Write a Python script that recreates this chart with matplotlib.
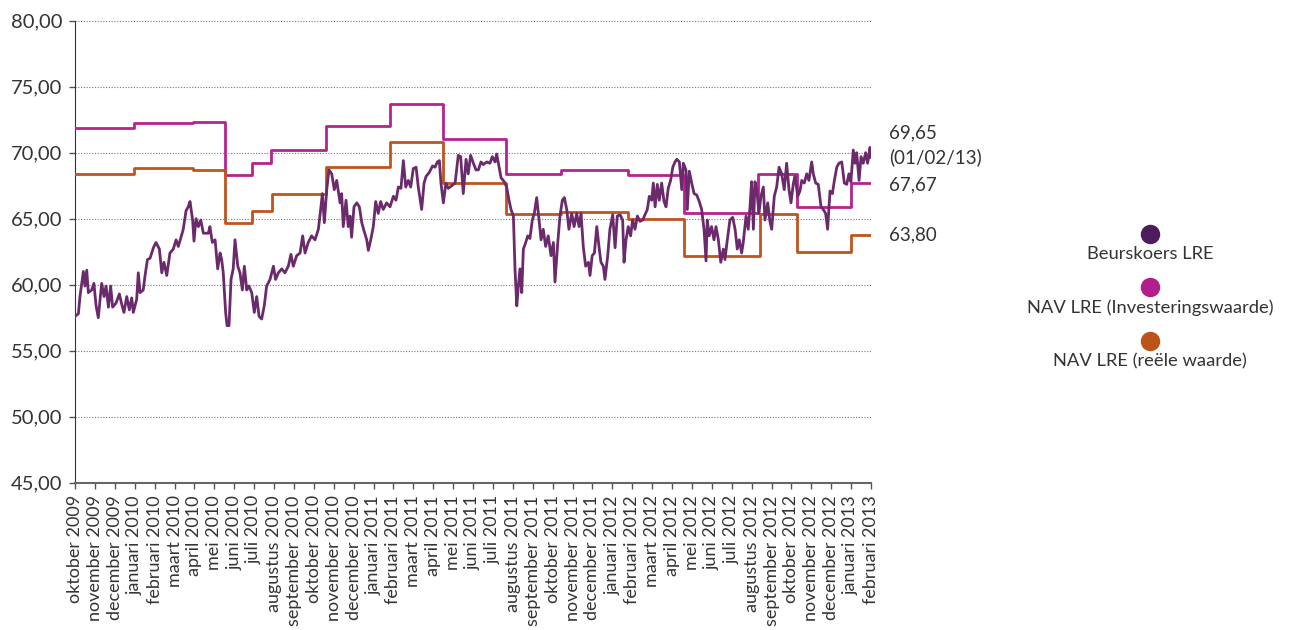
#! /usr/bin/env python3
# Koersevolutie LRE vs NAV, okt 2009 - feb 2013
import numpy as np
import matplotlib
matplotlib.use('Agg')
import matplotlib.pyplot as plt

plt.rcParams.update({
  'font.family':  ['Lato', 'DejaVu Sans'],
  'font.size':    13,
  'text.color':   '#333333',
  'xtick.color':  '#555555',
  'ytick.color':  '#555555',
  'xtick.labelcolor': '#333333',
  'ytick.labelcolor': '#333333',
})

# DATA (x = maanden sinds oktober 2009)
maanden = ['januari','februari','maart','april','mei','juni','juli',
           'augustus','september','oktober','november','december']
start_maand, start_jaar, n_maanden = 10, 2009, 41
xlabels = []
for i in range(n_maanden):
  mi = (start_maand-1+i) % 12
  jr = start_jaar + (start_maand-1+i)//12
  xlabels.append(f"{maanden[mi]} {jr}")

koers_x = [
  0.00,0.17,0.25,0.42,0.50,0.59,0.67,0.84,0.95,1.06,1.17,1.34,1.46,1.56,1.68,1.79,1.89,
  2.06,2.23,2.35,2.46,2.60,2.73,2.85,2.93,3.10,3.18,3.27,3.43,3.52,3.64,3.77,3.94,4.07,
  4.24,4.36,4.47,4.61,4.77,4.94,5.08,5.19,5.31,5.44,5.58,5.69,5.78,5.91,5.98,6.08,6.20,
  6.32,6.45,6.70,6.78,6.90,7.04,7.17,7.29,7.37,7.45,7.57,7.64,7.74,7.84,7.95,8.04,8.18,
  8.29,8.41,8.51,8.63,8.74,8.88,9.01,9.13,9.25,9.38,9.51,9.63,9.80,9.97,10.08,10.22,
  10.39,10.55,10.72,10.85,10.97,11.14,11.31,11.44,11.56,11.72,11.89,12.06,12.23,12.36,
  12.43,12.53,12.65,12.76,12.90,13.03,13.15,13.32,13.40,13.48,13.62,13.73,13.82,13.90,
  14.02,14.16,14.29,14.41,14.52,14.66,14.74,14.86,14.99,15.11,15.24,15.36,15.49,15.66,
  15.83,16.00,16.13,16.25,16.38,16.50,16.62,16.75,16.87,17.00,17.14,17.25,17.42,17.54,
  17.64,17.80,17.97,18.09,18.21,18.31,18.39,18.51,18.64,18.76,18.93,19.10,19.26,19.38,
  19.51,19.65,19.76,19.88,20.02,20.15,20.27,20.40,20.52,20.69,20.85,20.97,21.11,21.19,
  21.31,21.41,21.57,21.69,21.81,21.91,22.03,22.11,22.20,22.28,22.36,22.45,22.53,22.65,
  22.75,22.86,22.98,23.08,23.20,23.32,23.42,23.53,23.65,23.78,23.92,24.04,24.12,24.26,
  24.37,24.49,24.59,24.71,24.82,24.96,25.08,25.21,25.33,25.43,25.54,25.66,25.80,25.88,
  25.99,26.10,26.22,26.33,26.43,26.55,26.63,26.77,26.88,27.02,27.14,27.25,27.39,27.52,
  27.59,27.69,27.80,27.92,28.02,28.14,28.26,28.39,28.53,28.64,28.76,28.86,28.98,29.06,
  29.15,29.26,29.36,29.48,29.60,29.70,29.81,29.93,30.04,30.15,30.24,30.37,30.49,30.57,
  30.70,30.77,30.87,30.99,31.11,31.24,31.37,31.49,31.61,31.71,31.77,31.87,31.99,32.11,
  32.21,32.33,32.45,32.58,32.66,32.78,32.91,33.05,33.17,33.28,33.38,33.50,33.58,33.72,
  33.83,33.92,34.00,34.09,34.17,34.26,34.37,34.47,34.59,34.67,34.81,34.92,35.01,35.14,
  35.26,35.38,35.51,35.64,35.76,35.88,35.98,36.10,36.18,36.32,36.43,36.52,36.65,36.77,
  36.88,37.02,37.10,37.22,37.35,37.49,37.60,37.72,37.82,37.94,38.06,38.16,38.28,38.39,
  38.53,38.66,38.78,38.89,38.99,39.11,39.20,39.28,39.40,39.50,39.61,39.73,39.83,39.95,
  40.00]
koers_y = [
  57.6,57.8,59.1,61.0,59.9,61.1,59.4,59.6,60.1,58.4,57.5,60.1,59.1,59.9,58.3,59.9,58.3,
  58.6,59.3,58.5,57.9,59.1,58.1,59.0,57.9,58.9,60.9,59.4,59.6,60.7,61.9,62.0,62.8,63.2,
  62.7,60.9,61.7,60.7,62.4,62.7,63.4,62.9,63.5,64.2,65.6,65.9,66.3,64.9,63.3,65.0,64.4,
  64.9,63.9,63.9,64.4,63.2,63.4,61.2,62.4,61.9,60.9,57.9,56.9,56.9,60.4,61.2,63.4,61.4,
  60.9,59.6,61.4,59.6,59.9,59.4,57.9,59.1,57.6,57.4,58.4,59.9,60.4,61.4,60.4,60.9,
  61.2,60.9,61.4,62.3,61.4,62.2,62.4,63.7,62.4,63.2,63.7,63.4,64.2,65.9,
  66.9,64.7,67.2,68.7,68.4,67.2,67.9,66.2,66.9,64.4,66.4,64.4,65.2,63.6,
  65.9,66.2,65.9,64.7,64.1,63.4,62.6,63.4,64.4,66.3,65.4,66.3,65.7,66.2,
  65.9,66.7,66.4,67.4,67.3,69.4,67.4,67.9,67.4,68.8,68.9,67.4,65.7,67.7,
  68.2,68.5,69.0,68.9,69.3,69.4,67.7,66.2,67.7,67.3,67.5,67.7,69.8,69.7,
  66.9,69.5,68.4,69.8,69.2,68.7,68.7,69.3,69.1,69.3,69.2,69.7,69.3,69.9,
  68.9,68.1,67.8,67.4,66.4,65.7,65.2,61.2,58.4,59.9,61.2,59.4,62.7,63.2,
  63.7,63.5,64.9,65.4,66.6,64.9,63.4,64.2,62.9,63.7,62.2,63.2,60.2,63.2,
  65.2,66.4,66.6,65.7,64.2,65.4,64.4,65.4,64.4,65.4,62.9,61.4,61.7,60.7,
  62.2,62.4,64.4,62.9,61.7,61.4,60.4,62.2,64.2,65.3,62.8,65.2,65.3,64.9,
  61.7,63.4,64.4,63.7,64.9,64.2,65.2,64.8,64.9,65.3,65.7,66.7,66.4,67.7,
  65.9,67.6,66.4,67.7,66.3,65.9,67.3,67.9,68.9,69.3,69.5,69.3,67.2,69.2,
  68.7,65.7,68.6,67.7,66.9,66.8,66.3,65.7,64.2,61.8,64.9,63.7,64.4,63.4,
  64.4,63.4,61.7,62.7,61.9,63.4,64.9,65.1,64.2,62.7,63.4,62.4,63.2,65.2,
  64.2,65.9,67.8,64.2,67.8,67.2,65.4,66.7,67.4,64.9,66.2,64.8,64.2,66.7,
  67.4,68.9,68.4,67.2,69.2,67.2,66.2,67.7,68.2,66.7,67.1,67.9,67.7,68.4,
  67.9,69.3,68.4,67.7,67.6,65.9,65.7,65.4,64.2,67.1,66.9,67.9,68.9,69.2,
  69.3,67.7,67.6,68.4,67.8,70.2,69.2,70.0,67.9,69.7,69.2,70.0,69.2,70.4,
  69.65]

# NAV LRE (Investeringswaarde): begin van elke periode + waarde
nav_inv_x = [0, 2.96, 5.93, 7.54, 8.90, 9.85, 12.60, 15.83, 18.50, 21.66, 24.40, 27.80, 30.60, 34.30, 36.30, 39.00, 40]
nav_inv_y = [71.85, 72.25, 72.30, 68.28, 69.20, 70.20, 72.05, 73.68, 71.04, 68.38, 68.72, 68.28, 65.45, 68.38, 65.86, 67.67, 67.67]

# NAV LRE (reele waarde)
nav_ree_x = [0, 2.96, 5.93, 7.54, 8.90, 9.90, 12.60, 15.83, 18.50, 21.66, 24.40, 27.80, 30.60, 34.40, 36.30, 39.00, 40]
nav_ree_y = [68.38, 68.83, 68.72, 64.70, 65.60, 66.90, 68.93, 70.83, 67.73, 65.35, 65.50, 64.98, 62.17, 65.35, 62.48, 63.80, 63.80]

series = ["Beurskoers LRE", "NAV LRE (Investeringswaarde)", "NAV LRE (reële waarde)"]
c_koers, c_inv, c_ree = '#6B2A6B', '#B7228E', '#BF551C'
c_legend = ['#4E1C5C', '#B01F8B', '#BD5319']

# PLOT
fig = plt.figure(figsize=(12.9, 6.3), dpi=100)
ax = fig.add_axes([75/1290, 1-482.7/630, (871-75)/1290, (482.7-20.7)/630])

ax.plot(nav_inv_x, nav_inv_y, drawstyle='steps-post', color=c_inv, lw=2.0, zorder=3)
ax.plot(nav_ree_x, nav_ree_y, drawstyle='steps-post', color=c_ree, lw=2.0, zorder=3)
ax.plot(koers_x, koers_y, color=c_koers, lw=2.0, zorder=4)

ax.set_xlim(0, 40)
ax.set_ylim(45, 80)
ax.set_yticks(np.arange(45, 81, 5))
ax.set_yticklabels([f"{v:.2f}".replace('.', ',') for v in np.arange(45, 81, 5)], fontsize=14.5)
ax.set_xticks(range(n_maanden))
ax.set_xticklabels(xlabels, rotation=90, va='top', ha='center', fontsize=13)
ax.tick_params(axis='both', direction='out', length=4, width=1)
ax.tick_params(axis='x', pad=5)
ax.tick_params(axis='y', pad=5)
ax.yaxis.grid(True, linestyle=(0, (1, 1.5)), color='#777777', lw=0.8)
ax.set_axisbelow(True)
for s in ['top', 'right']:
  ax.spines[s].set_visible(False)
ax.spines['left'].set_color('#333333')
ax.spines['bottom'].set_color('#666666')
ax.spines['bottom'].set_linewidth(1.5)

# eindwaarden
tx = 889/1290
fig.text(tx, 1-133/630, "69,65", va='center', ha='left', fontsize=13.5)
fig.text(tx, 1-157/630, "(01/02/13)", va='center', ha='left', fontsize=13.5)
fig.text(tx, 1-185/630, "67,67", va='center', ha='left', fontsize=13.5)
fig.text(tx, 1-235/630, "63,80", va='center', ha='left', fontsize=13.5)

# legende
lx = 1150/1290
for i, (lab, col) in enumerate(zip(series, c_legend)):
  yc = 234 + i*53.5
  fig.lines.append(plt.Line2D([lx], [1-yc/630], marker='o', markersize=13, color=col,
                              linestyle='', transform=fig.transFigure))
  fig.text(lx, 1-(yc+20)/630, lab, ha='center', va='center', fontsize=13.2)

plt.savefig('out.png', dpi=100)
